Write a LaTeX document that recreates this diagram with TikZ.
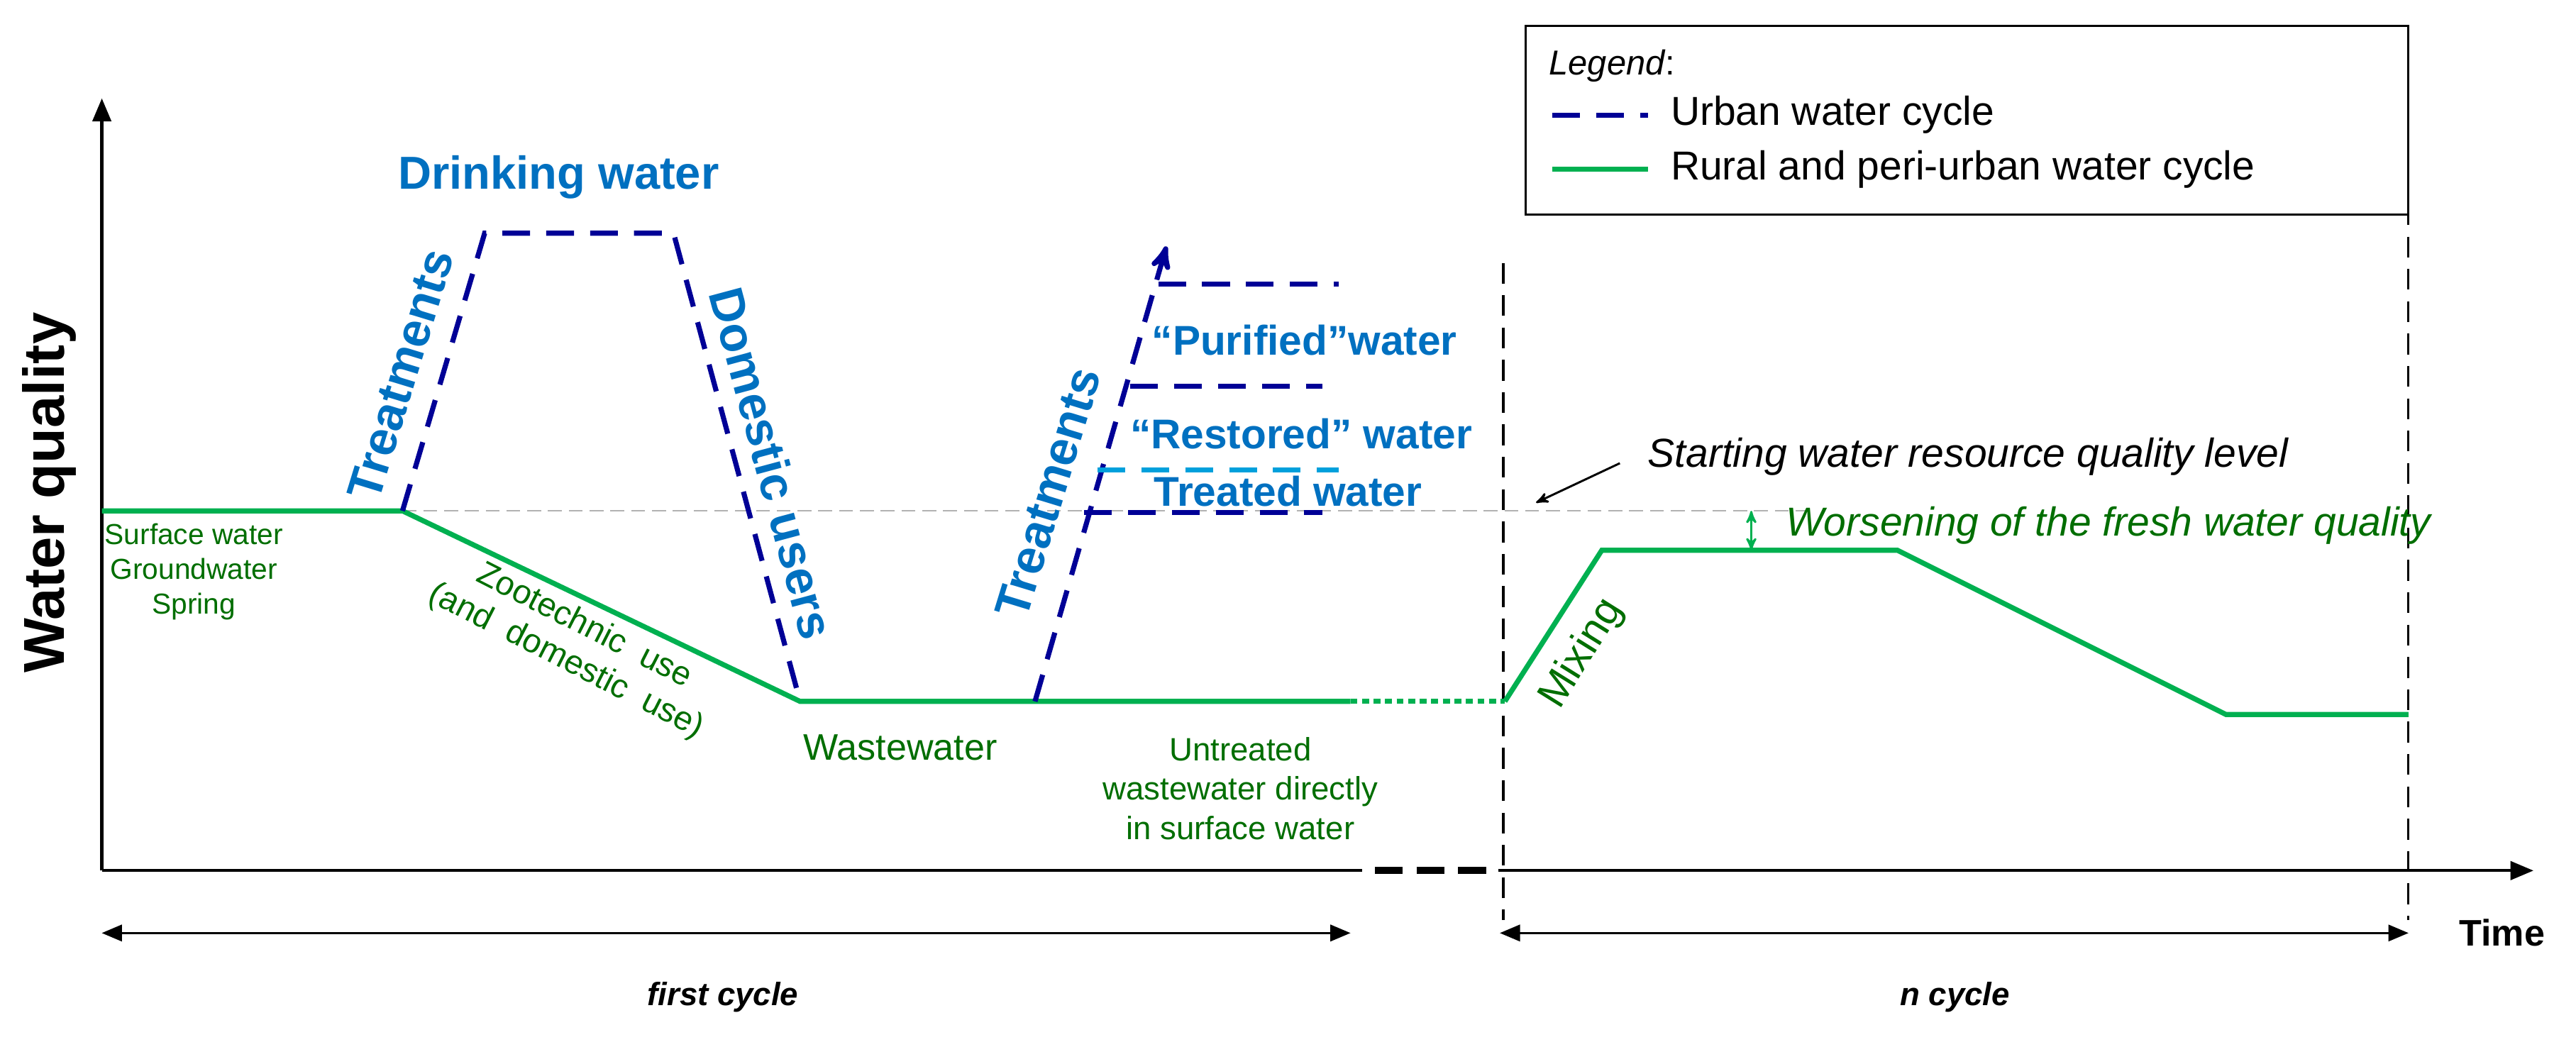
\documentclass[tikz,border=0pt]{standalone}
\usepackage{fontspec}
\setmainfont{Liberation Sans}
\usepackage{tikz}
\usetikzlibrary{arrows, positioning, calc}
\definecolor{navy}{RGB}{0,0,150}
\definecolor{lblue}{RGB}{0,112,192}
\definecolor{skyb}{RGB}{0,160,220}
\definecolor{lgreen}{RGB}{0,176,80}
\definecolor{dgreen}{RGB}{0,110,0}
\tikzset{
         urban/.style={draw=navy, line width=2.2pt, dash pattern=on 12pt off 7pt},
         rural/.style={draw=lgreen, line width=2.2pt},
         bluelab/.style={text=lblue, font=\fontsize{18}{20}\selectfont\bfseries},
         greenlab/.style={text=dgreen, font=\fontsize{12.5}{15}\selectfont, align=center},
         sep/.style={draw=black, line width=1pt, dash pattern=on 9pt off 5pt},
         span/.style={<->, >=triangle 45, line width=1pt}
      }
\begin{document}
\begin{tikzpicture}[x=0.025cm, y=-0.025cm]
\useasboundingbox (0,0) rectangle (1568,637);
% axes
\coordinate (o) at (62,530);
\coordinate (ytop) at (62,60);
\coordinate (xa) at (829,530);
\coordinate (xb) at (912,530);
\coordinate (xend) at (1542,530);
\draw[->, >=triangle 45, line width=1.3pt] (o) -- (ytop);
\draw[line width=1.3pt] (o) -- (xa);
\draw[line width=3pt, dash pattern=on 12pt off 6pt] (xa) ++(8,0) -- (xb);
\draw[->, >=triangle 45, line width=1.3pt] (xb) -- (xend);
\node[rotate=90, font=\fontsize{25}{27}\selectfont\bfseries] (yl) at (30,300) {Water quality};
\node[font=\fontsize{16}{18}\selectfont\bfseries] (tl) at (1523,568) {Time};
% cycles
\coordinate (c1a) at (62,568);
\coordinate (c1b) at (822,568);
\coordinate (c2a) at (913,568);
\coordinate (c2b) at (1466,568);
\draw[span] (c1a) -- (c1b);
\draw[span] (c2a) -- (c2b);
\node[font=\fontsize{14}{16}\selectfont\bfseries\itshape] (fc) at (440,607) {first cycle};
\node[font=\fontsize{14}{16}\selectfont\bfseries\itshape] (nc) at (1190,607) {n cycle};
\draw[sep] (915,160) -- (915,560);
\draw[sep] (1466,85) -- (1466,560);
% reference level
\draw[gray!60, line width=0.8pt, dash pattern=on 6pt off 3pt] (245,311) -- (1100,311);
% rural cycle
\draw[rural] (62,311) -- (245,311) -- (487,427) -- (822,427);
\draw[rural, dash pattern=on 3pt off 2pt] (822,427) -- (916,427);
\draw[rural] (916,427) -- (975,335) -- (1155,335) -- (1355,435) -- (1466,435);
% urban cycle
\draw[urban] (245,311) -- (295,142) -- (410,142) -- (487,427);
\draw[urban, ->, >=stealth'] (630,427) -- (710,150);
\draw[urban] (705,173) -- (815,173);
\draw[urban] (688,235) -- (805,235);
\draw[urban] (660,312) -- (805,312);
\draw[urban, draw=skyb] (668,286) -- (815,286);
% urban labels
\node[bluelab, font=\fontsize{20}{22}\selectfont\bfseries] (dw) at (340,108) {Drinking water};
\node[bluelab, rotate=73, font=\fontsize{21}{23}\selectfont\bfseries] (tr1) at (244,228) {Treatments};
\node[bluelab, rotate=-75, font=\fontsize{21}{23}\selectfont\bfseries] (du) at (470,282) {Domestic users};
\node[bluelab, rotate=73, font=\fontsize{21}{23}\selectfont\bfseries] (tr2) at (638,300) {Treatments};
\node[bluelab] (pw) at (794,207) {“Purified”water};
\node[bluelab] (rw) at (792,264) {“Restored” water};
\node[bluelab] (tw) at (784,299) {Treated water};
% rural labels
\node[greenlab] (sw) at (118,348) {Surface water\\Groundwater\\Spring};
\node[greenlab, rotate=-27, font=\fontsize{14.5}{17}\selectfont] (zu) at (350,392) {Zootechnic\ \ use\\(and\ \ domestic\ \ use)};
\node[greenlab, font=\fontsize{16}{18}\selectfont] (ww) at (548,455) {Wastewater};
\node[greenlab, font=\fontsize{14}{17}\selectfont] (uw) at (755,480) {Untreated\\wastewater directly\\in surface water};
\node[greenlab, rotate=58, font=\fontsize{18}{20}\selectfont] (mx) at (963,398) {Mixing};
% level notes
\node[font=\fontsize{17.5}{19}\selectfont\itshape, anchor=west] (sl) at (998,278) {Starting water resource quality level};
\draw[->, >=stealth', line width=0.9pt] (sl.west) ++(-12,4) -- (935,306);
\coordinate (wa) at (1066,311);
\coordinate (wb) at (1066,335);
\draw[<->, >=stealth', lgreen, line width=0.9pt] (wa) -- (wb);
\node[greenlab, font=\fontsize{17.5}{19}\selectfont\itshape, anchor=west] (wo) at (1082,320) {Worsening of the fresh water quality};
% legend
\node[draw, line width=1pt, minimum width=537*0.025cm, minimum height=115*0.025cm, anchor=north west] (leg) at (928,15) {};
\node[font=\fontsize{15}{17}\selectfont, anchor=west] (lt) at (938,40) {\textit{Legend}:};
\draw[urban] (945,70) -- (1003,70);
\node[font=\fontsize{17.5}{19}\selectfont, anchor=west] (l1) at (1012,70) {Urban water cycle};
\draw[rural] (945,103) -- (1003,103);
\node[font=\fontsize{17.5}{19}\selectfont, anchor=west] (l2) at (1012,103) {Rural and peri-urban water cycle};
\end{tikzpicture}
\end{document}
